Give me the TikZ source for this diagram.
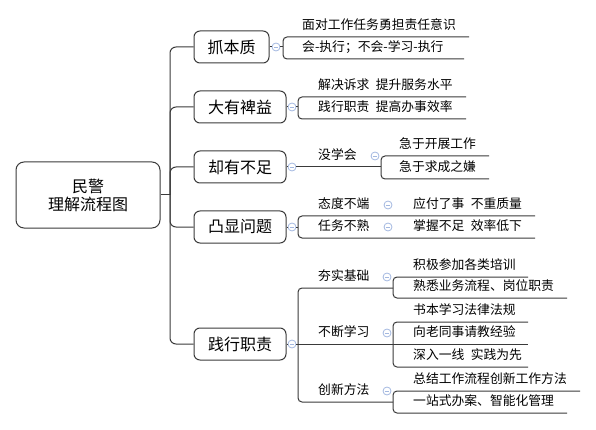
\documentclass[tikz,border=0pt]{standalone}
\usepackage{fontspec}
\newfontfamily\cjk{Noto Sans CJK SC}
\definecolor{linec}{HTML}{3A3A3A}
\definecolor{iconc}{HTML}{A3B8E0}
\begin{document}
\begin{tikzpicture}[x=1pt,y=-1pt,
 conn/.style={draw=linec,line width=1pt},
 bracket/.style={conn,rounded corners=4pt},
 rootbox/.style={draw=linec,line width=1pt,rounded corners=8pt,minimum width=144pt,minimum height=66pt,align=center,inner sep=0pt,font=\cjk\fontsize{16}{18}\selectfont},
 mainbox/.style={draw=linec,line width=1pt,rounded corners=6pt,minimum height=32pt,inner sep=0pt,font=\cjk\fontsize{16}{18}\selectfont},
 topic/.style={anchor=west,inner sep=0pt,font=\cjk\fontsize{12.8}{14}\selectfont,text height=0.88em,text depth=0.12em},
 icon/.style={circle,draw=iconc,fill=white,line width=0.8pt,minimum size=8pt,inner sep=0pt,
   path picture={\draw[iconc,line width=0.8pt] ([xshift=-2.2pt]path picture bounding box.center) -- ([xshift=2.2pt]path picture bounding box.center);}}]
\useasboundingbox (0,0) rectangle (596,430);

% root and main topics
\node[rootbox] (root) at (88,195) {民警\\理解流程图};
\node[mainbox,minimum width=75pt] (b1) at (231.5,47) {抓本质};
\node[mainbox,minimum width=92pt] (b2) at (240,107) {大有裨益};
\node[mainbox,minimum width=92pt] (b3) at (240,167) {却有不足};
\node[mainbox,minimum width=92pt] (b4) at (240,227) {凸显问题};
\node[mainbox,minimum width=92pt] (b5) at (240,344) {践行职责};

\coordinate (j0) at (170,195);
\draw[conn] (root.east) -- (j0);
\foreach \b in {b1,b2,b3,b4,b5} \draw[conn,rounded corners=6pt] (j0) |- (\b.west);

% collapse icons of main topics
\node[icon] (i1) at (276,47) {};
\node[icon] (i2) at (292,107) {};
\node[icon] (i3) at (292,167) {};
\node[icon] (i4) at (292,227) {};
\node[icon] (i5) at (292,344) {};
\foreach \n in {1,2,3,4,5} \draw[conn] (b\n.east) -- (i\n.west);

% branch 1
\coordinate (k1) at (283,47);
\coordinate (e11) at (469,37);
\coordinate (e12) at (464,59);
\draw[conn] (i1.east) -- (k1);
\draw[bracket] (e11) -| (k1) |- (e12);
\node[topic] (t11) at (302,26) {面对工作任务勇担责任意识};
\node[topic] (t12) at (302,48) {会-执行；不会-学习-执行};

% branch 2
\coordinate (k2) at (298,107);
\coordinate (e21) at (466,97);
\coordinate (e22) at (466,119);
\draw[conn] (i2.east) -- (k2);
\draw[bracket] (e21) -| (k2) |- (e22);
\node[topic] (t21) at (318,86) {解决诉求\hspace{0.5em}提升服务水平};
\node[topic] (t22) at (318,108) {践行职责\hspace{0.5em}提高办事效率};

% branch 3
\coordinate (k3) at (381,167);
\coordinate (e31) at (489,156);
\coordinate (e32) at (489,179);
\draw[conn] (i3.east) -- (k3);
\draw[bracket] (e31) -| (k3) |- (e32);
\node[topic] (t3) at (318,156) {没学会};
\node[icon] (i31) at (375,156) {};
\node[topic] (t31) at (399,145) {急于开展工作};
\node[topic] (t32) at (399,168) {急于求成之嫌};

% branch 4
\coordinate (k4) at (298,227);
\coordinate (e41) at (535,216);
\coordinate (e42) at (535,238);
\draw[conn] (i4.east) -- (k4);
\draw[bracket] (e41) -| (k4) |- (e42);
\node[topic] (t41) at (318,205) {态度不端};
\node[topic] (t42) at (318,227) {任务不熟};
\node[icon] (i41) at (388,205) {};
\node[icon] (i42) at (388,227) {};
\node[topic] (t411) at (413,205) {应付了事\hspace{0.5em}不重质量};
\node[topic] (t421) at (413,227) {掌握不足\hspace{0.5em}效率低下};

% branch 5
\coordinate (k5) at (298,344);
\coordinate (c1) at (393,288);
\coordinate (c2) at (393,344);
\coordinate (c3) at (393,402);
\draw[conn] (i5.east) -- (k5);
\draw[bracket] (c1) -| (k5) |- (c3);
\draw[conn] (k5) -- (c2);
\node[topic] (t51) at (318,277) {夯实基础};
\node[topic] (t52) at (318,333) {不断学习};
\node[topic] (t53) at (318,391) {创新方法};

% 夯实基础
\coordinate (e511) at (528,277);
\coordinate (e512) at (567,298);
\draw[bracket] (e511) -| (c1) |- (e512);
\node[topic] (t511) at (413,266) {积极参加各类培训};
\node[topic] (t512) at (413,287) {熟悉业务流程、岗位职责};

% 不断学习
\coordinate (e521) at (528,322);
\coordinate (e522) at (528,344);
\coordinate (e523) at (528,367);
\draw[bracket] (e521) -| (c2) |- (e523);
\draw[conn] (c2) -- (e522);
\node[topic] (t521) at (413,311) {书本学习法律法规};
\node[topic] (t522) at (413,333) {向老同事请教经验};
\node[topic] (t523) at (413,356) {深入一线\hspace{0.5em}实践为先};

% 创新方法
\coordinate (e531) at (580,391);
\coordinate (e532) at (567,413);
\draw[bracket] (e531) -| (c3) |- (e532);
\node[topic] (t531) at (413,380) {总结工作流程创新工作方法};
\node[topic] (t532) at (413,402) {一站式办案、智能化管理};

% collapse icons of sub topics
\node[icon] (i51) at (387,277) {};
\node[icon] (i52) at (387,333) {};
\node[icon] (i53) at (387,391) {};
\end{tikzpicture}
\end{document}
